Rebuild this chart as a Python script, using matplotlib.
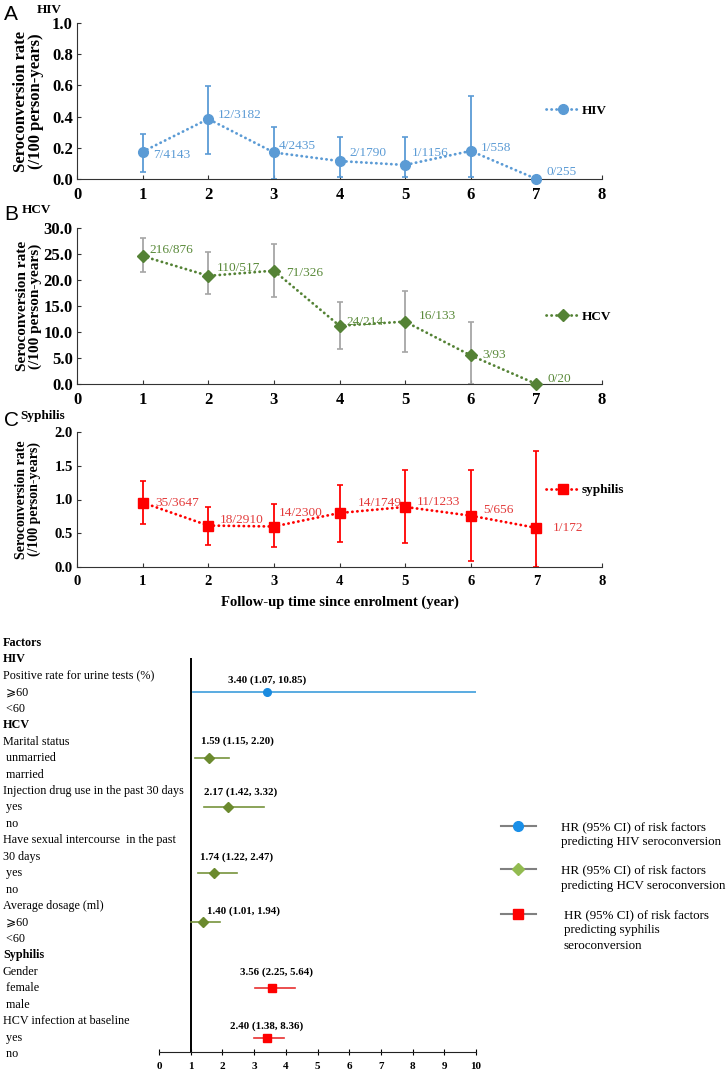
import numpy as np
import matplotlib
matplotlib.use("Agg")
from matplotlib import pyplot as plt
from matplotlib.lines import Line2D
from matplotlib.transforms import blended_transform_factory

plt.rcParams['font.family'] = ['Liberation Serif', 'DejaVu Sans']

# ---- seroconversion data ----
years = [1, 2, 3, 4, 5, 6, 7]

hiv_rate = [0.175, 0.385, 0.17, 0.115, 0.09, 0.18, 0.0]
hiv_lo = [0.045, 0.16, 0.0, 0.013, 0.015, 0.01, 0.0]
hiv_hi = [0.29, 0.595, 0.333, 0.27, 0.27, 0.53, 0.0]
hiv_txt = ["7/4143", "12/3182", "4/2435", "2/1790", "1/1156", "1/558", "0/255"]

hcv_rate = [24.6, 20.8, 21.8, 11.2, 12.0, 5.5, 0.0]
hcv_lo = [21.5, 17.3, 16.7, 6.8, 6.1, 0.0, 0.0]
hcv_hi = [28.0, 25.3, 26.9, 15.7, 17.9, 11.9, 0.0]
hcv_txt = ["216/876", "110/517", "71/326", "24/214", "16/133", "3/93", "0/20"]

syp_rate = [0.955, 0.614, 0.60, 0.80, 0.89, 0.76, 0.58]
syp_lo = [0.64, 0.327, 0.29, 0.376, 0.36, 0.09, 0.0]
syp_hi = [1.28, 0.896, 0.93, 1.22, 1.43, 1.43, 1.72]
syp_txt = ["35/3647", "18/2910", "14/2300", "14/1749", "11/1233", "5/656", "1/172"]

# ---- forest plot data ----
rows = ["Factors", "HIV", "Positive rate for urine tests (%)", " \u2a7e60", " <60",
        "HCV", "Marital status", " unmarried", " married",
        "Injection drug use in the past 30 days", " yes", " no",
        "Have sexual intercourse  in the past", "30 days", " yes", " no",
        "Average dosage (ml)", " \u2a7e60", " <60",
        "Syphilis", "Gender", " female", " male",
        "HCV infection at baseline", " yes", " no"]
bold_rows = ["Factors", "HIV", "HCV", "Syphilis"]

hr_row = [3, 7, 10, 14, 17, 21, 24]
hr_group = ["HIV", "HCV", "HCV", "HCV", "HCV", "syphilis", "syphilis"]
hr_point = [3.40, 1.59, 2.17, 1.74, 1.40, 3.56, 3.40]   # as drawn
hr_lo = [1.07, 1.15, 1.42, 1.23, 1.02, 3.03, 3.00]
hr_hi = [10.85, 2.20, 3.32, 2.46, 1.94, 4.30, 3.94]
hr_txt = ["3.40 (1.07, 10.85)", "1.59 (1.15, 2.20)", "2.17 (1.42, 3.32)",
          "1.74 (1.22, 2.47)", "1.40 (1.01, 1.94)", "3.56 (2.25, 5.64)",
          "2.40 (1.38, 8.36)"]
# where the HR text sits (x centre, row)
hr_txt_x = [3.4, 2.46, 2.56, 2.46, 2.68, 3.72, 3.4]
hr_txt_row = [2.25, 6.0, 9.1, 13.0, 16.3, 20.0, 23.3]

W, H = 727, 1073
fig = plt.figure(figsize=(W / 100, H / 100), dpi=100)


def fr(x0, y_top, x1, y_bot):
    return [x0 / W, 1 - y_bot / H, (x1 - x0) / W, (y_bot - y_top) / H]


def panel(rect, rate, lo, hi, txt, offs, color, ecolor, tcolor, marker, ms,
          ymax, ystep, name, leg_y, fs_tick, fs_ylab, ylab_x):
    ax = fig.add_axes(rect)
    rate = np.array(rate)
    err = [rate - np.array(lo), np.array(hi) - rate]
    ax.errorbar(years, rate, yerr=err, fmt='none', ecolor=ecolor, elinewidth=1.3,
                capsize=2.5, capthick=1.2, clip_on=False, zorder=2)
    ax.plot(years, rate, color=color, lw=2.0, ls=(0, (0.1, 1.7)),
            dash_capstyle='round', marker=marker, ms=ms, mec=color, mfc=color,
            clip_on=False, zorder=3, label=name)
    for x, y, t, o in zip(years, rate, txt, offs):
        ax.annotate(t, (x, y), xytext=o, textcoords='offset pixels', ha='left',
                    va='center', color=tcolor, fontsize=9.6)
    ax.set_xlim(0, 8)
    ax.set_ylim(0, ymax)
    ax.set_xticks(range(9))
    ticks = np.arange(0, ymax + ystep / 2, ystep)
    ax.set_yticks(ticks)
    ax.set_yticklabels(["%.1f" % v for v in ticks])
    for s in ['top', 'right']:
        ax.spines[s].set_visible(False)
    for s in ['left', 'bottom']:
        ax.spines[s].set_color('#333333')
    ax.tick_params(direction='in', length=3, color='#333333', labelsize=fs_tick)
    ax.tick_params(axis='x', pad=6)
    ax.tick_params(axis='y', pad=3)
    for lab in ax.get_xticklabels() + ax.get_yticklabels():
        lab.set_fontweight('bold')
    ax.set_ylabel("Seroconversion rate\n(/100 person-years)", fontsize=fs_ylab,
                  fontweight='bold', linespacing=0.95)
    ax.yaxis.set_label_coords(ylab_x, 0.5)
    ax.legend(loc='center left', bbox_to_anchor=(0.893, leg_y), frameon=False,
              handlelength=2.6, handletextpad=0.1, borderpad=0, borderaxespad=0,
              prop={'weight': 'bold', 'size': 9.5})
    return ax


axA = panel(fr(77, 23, 602, 179), hiv_rate, hiv_lo, hiv_hi, hiv_txt,
            [(11, -3), (10, 4), (5, 6), (10, 8), (7, 12), (10, 3), (10, 7)],
            '#5b9bd5', '#5b9bd5', '#5b9bd5', 'o', 7, 1.0, 0.2, 'HIV', 0.436,
            12, 12, -0.063)
axB = panel(fr(77, 228, 602, 384), hcv_rate, hcv_lo, hcv_hi, hcv_txt,
            [(7, 6), (9, 8), (12, -2), (7, 4), (14, 6), (12, 0), (11, 5)],
            '#548235', '#a6a6a6', '#5a8a3a', 'D', 6.5, 30.0, 5.0, 'HCV', 0.43,
            12, 11, -0.067)
axC = panel(fr(77, 432, 602, 567), syp_rate, syp_lo, syp_hi, syp_txt,
            [(13, 0), (12, 6), (5, 13), (18, 10), (12, 5), (13, 6), (16, 0)],
            '#ff0000', '#ff0000', '#e33a3a', 's', 7, 2.0, 0.5, 'syphilis', 0.57,
            10.5, 10, -0.069)
axC.set_xlabel("Follow-up time since enrolment (year)", fontsize=10.5,
               fontweight='bold', labelpad=5)

# panel letters and titles
for ypx, letter, title, tx in [(14, "A", "HIV", 37), (214, "B", "HCV", 22),
                               (420, "C", "Syphilis", 20)]:
    fig.text(4 / W, 1 - ypx / H, letter, family='Liberation Sans', fontsize=15,
             va='center', ha='left')
    fig.text(tx / W, 1 - (ypx - 4) / H, title, fontsize=9.5, fontweight='bold',
             va='center', ha='left')

# ---- forest plot ----
axF = fig.add_axes(fr(159, 643, 476, 1052))
axF.set_xlim(0, 10)
axF.set_ylim(24.88, 0)
for s in ['top', 'right', 'left']:
    axF.spines[s].set_visible(False)
axF.spines['bottom'].set_color('#222222')
axF.set_yticks([])
axF.set_xticks(range(11))
axF.tick_params(axis='x', direction='inout', length=4, labelsize=8, pad=5)
for lab in axF.get_xticklabels():
    lab.set_fontweight('bold')
axF.vlines(1, 0.9, 24.88, color='black', lw=1.4)

styles = {
    "HIV": dict(line='#3d9ddb', mk='#1a8be0', marker='o', ms=5.5),
    "HCV": dict(line='#77933c', mk='#6b8a2e', marker='D', ms=5),
    "syphilis": dict(line='#e83030', mk='#ff0000', marker='s', ms=5.5),
}
for r, g, p, lo, hi, t, tx, tr in zip(hr_row, hr_group, hr_point, hr_lo, hr_hi,
                                      hr_txt, hr_txt_x, hr_txt_row):
    st = styles[g]
    axF.plot([lo, hi], [r, r], color=st['line'], lw=1.2, zorder=2)
    axF.plot([p], [r], marker=st['marker'], ms=st['ms'], color=st['mk'], zorder=3)
    axF.text(tx, tr, t, ha='center', va='center', fontsize=7.8, fontweight='bold')

tr_rows = blended_transform_factory(fig.transFigure, axF.transData)
for i, name in enumerate(rows):
    axF.text(3 / W, i, name, transform=tr_rows, ha='left', va='center',
             fontsize=8.7, fontweight='bold' if name in bold_rows else 'normal',
             clip_on=False)

# legend of the forest plot
leg = [(826, 'o', '#1a8fe8', 7,
        ["HR (95% CI) of risk factors", "predicting HIV seroconversion"], 561),
       (869, 'D', '#92bb50', 6,
        ["HR (95% CI) of risk factors", "predicting HCV seroconversion"], 561),
       (914, 's', '#ff0000', 7,
        ["HR (95% CI) of risk factors", "predicting syphilis", "seroconversion"], 564)]
for ypx, mk, col, ms, lines, xt in leg:
    yf = 1 - ypx / H
    fig.add_artist(Line2D([501 / W, 536 / W], [yf, yf], color='#808080', lw=1.5,
                          transform=fig.transFigure))
    fig.add_artist(Line2D([518 / W], [yf], marker=mk, ms=ms, color=col,
                          transform=fig.transFigure))
    for k, line in enumerate(lines):
        fig.text(xt / W, 1 - (ypx + 1 + 15.5 * k) / H, line, ha='left',
                 va='center', fontsize=9.4)

fig.savefig("out.png", dpi=100)
